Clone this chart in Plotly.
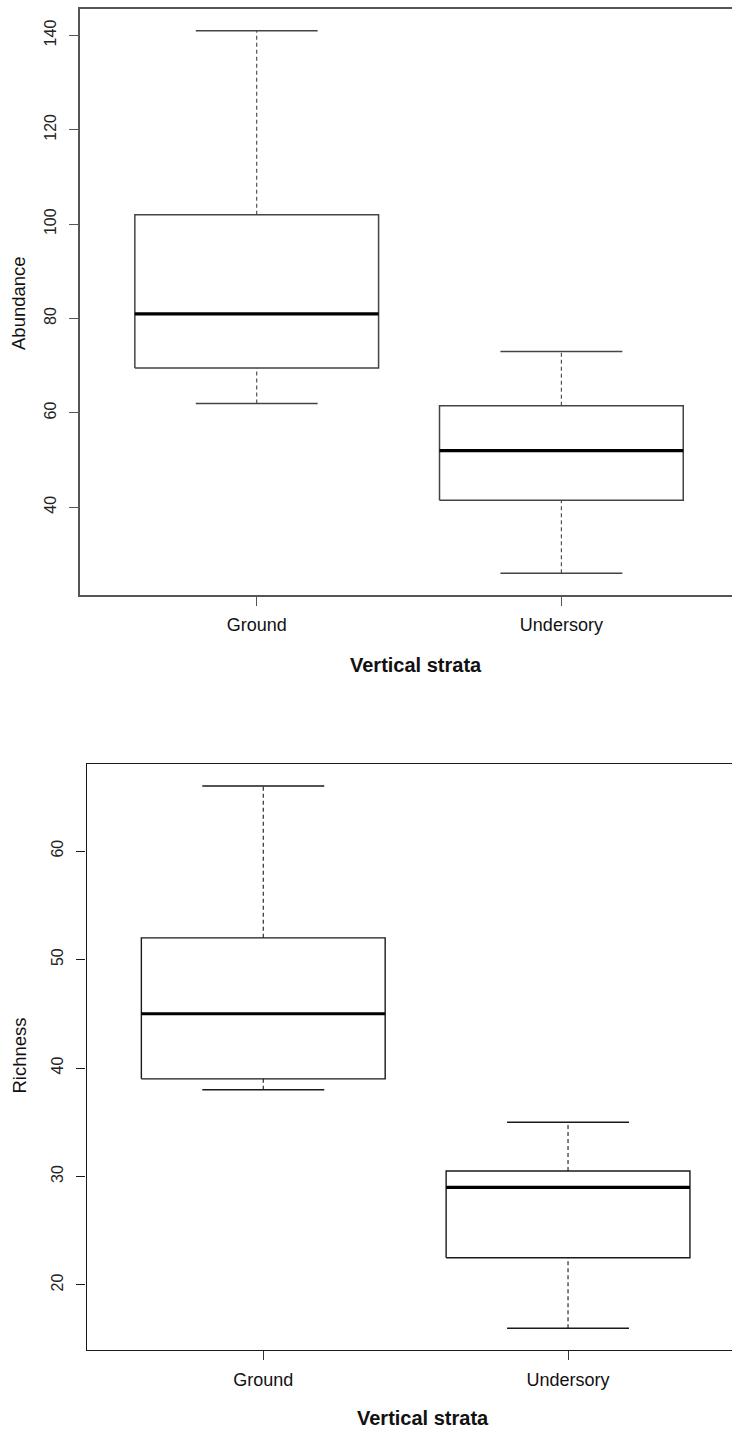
import plotly.graph_objects as go

# Vertical strata groups
strata = ["Ground", "Undersory"]

# Abundance five-number summaries per stratum
abund_min = [62, 26]
abund_q1 = [69.5, 41.5]
abund_med = [81, 52]
abund_q3 = [102, 61.5]
abund_max = [141, 73]

# Richness five-number summaries per stratum
rich_min = [38, 16]
rich_q1 = [39, 22.5]
rich_med = [45, 29]
rich_q3 = [52, 30.5]
rich_max = [66, 35]

abund_ticks = [40, 60, 80, 100, 120, 140]
rich_ticks = [20, 30, 40, 50, 60]

W, H = 732, 1432
FONT = "Liberation Sans, Arial, sans-serif"
BOX_HALF = 0.4   # boxwex 0.8
CAP_HALF = 0.2   # staple half-width


def box_traces(lo, q1, med, q3, hi, xa, ya, color, lw):
    pos = list(range(1, len(lo) + 1))
    bx, by, mx, my, wx, wy, cx, cy = [], [], [], [], [], [], [], []
    for p, a, b, m, c, d in zip(pos, lo, q1, med, q3, hi):
        bx += [p - BOX_HALF, p + BOX_HALF, p + BOX_HALF, p - BOX_HALF, p - BOX_HALF, None]
        by += [b, b, c, c, b, None]
        mx += [p - BOX_HALF, p + BOX_HALF, None]
        my += [m, m, None]
        wx += [p, p, None, p, p, None]
        wy += [a, b, None, c, d, None]
        cx += [p - CAP_HALF, p + CAP_HALF, None, p - CAP_HALF, p + CAP_HALF, None]
        cy += [a, a, None, d, d, None]
    common = dict(mode="lines", xaxis=xa, yaxis=ya, showlegend=False, hoverinfo="skip")
    return [
        go.Scatter(x=wx, y=wy, line=dict(color=color, width=1.1, dash="4px,3px"), **common),
        go.Scatter(x=cx, y=cy, line=dict(color=color, width=lw), **common),
        go.Scatter(x=bx, y=by, line=dict(color=color, width=lw), **common),
        go.Scatter(x=mx, y=my, line=dict(color="#000000", width=3.2), **common),
    ]


fig = go.Figure()
for t in box_traces(abund_min, abund_q1, abund_med, abund_q3, abund_max, "x", "y", "#444444", 1.5):
    fig.add_trace(t)
for t in box_traces(rich_min, rich_q1, rich_med, rich_q3, rich_max, "x2", "y2", "#1a1a1a", 1.4):
    fig.add_trace(t)


def py(px):
    return 1 - px / H


xcommon = dict(
    tickmode="array", tickvals=[1, 2], ticktext=strata,
    ticks="outside", ticklen=9, tickwidth=1.2, ticklabelstandoff=4,
    showline=True, mirror=True, showgrid=False, zeroline=False,
    tickfont=dict(family=FONT, size=18, color="#111111"),
    fixedrange=True,
)
ycommon = dict(
    tickmode="array", ticks="outside", ticklen=9, tickwidth=1.2, ticklabelstandoff=7,
    showline=True, mirror=False, showgrid=False, zeroline=False,
    tickangle=-90, tickfont=dict(family=FONT, size=16, color="#222222"),
    fixedrange=True,
)

fig.update_layout(
    width=W, height=H,
    margin=dict(l=0, r=0, t=0, b=0),
    paper_bgcolor="white", plot_bgcolor="white",
    xaxis=dict(domain=[80 / W, 1], range=[0.42, 2.56], anchor="y",
               linecolor="#555555", tickcolor="#555555", linewidth=1.5, **xcommon),
    yaxis=dict(domain=[py(595), py(9)], range=[21.4, 145.6], anchor="x",
               tickvals=abund_ticks, linecolor="#555555", tickcolor="#555555",
               linewidth=1.5, **ycommon),
    xaxis2=dict(domain=[86.5 / W, 1], range=[0.42, 2.538], anchor="y2",
                linecolor="#1a1a1a", tickcolor="#333333", linewidth=1.4, **xcommon),
    yaxis2=dict(domain=[py(1350), py(764.3)], range=[14, 68], anchor="x2",
                tickvals=rich_ticks, linecolor="#1a1a1a", tickcolor="#1a1a1a",
                linewidth=1.4, **ycommon),
)

title_font = dict(family=FONT, size=18.5, color="#111111")
xt_font = dict(family=FONT, size=20, color="#111111")
ann = [
    dict(text="Abundance", x=18 / W, y=py(303), textangle=-90, font=title_font),
    dict(text="<b>Vertical strata</b>", x=416 / W, y=py(665), font=xt_font),
    dict(text="Richness", x=18.5 / W, y=py(1056), textangle=-90, font=title_font),
    dict(text="<b>Vertical strata</b>", x=423 / W, y=py(1418), font=xt_font),
]
for a in ann:
    fig.add_annotation(xref="paper", yref="paper", showarrow=False,
                       xanchor="center", yanchor="middle", **a)

fig.write_html("out.html")
